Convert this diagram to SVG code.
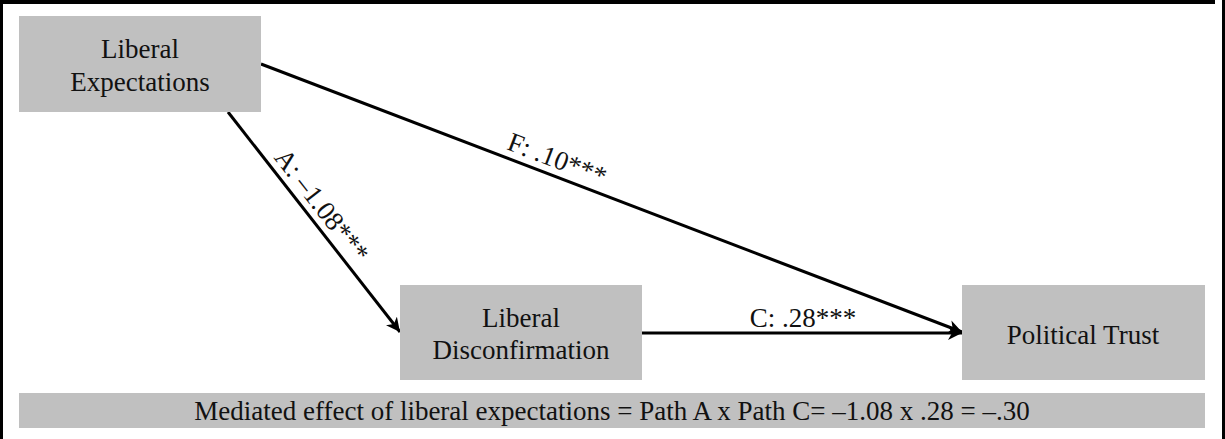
<svg xmlns="http://www.w3.org/2000/svg" width="1225" height="439" viewBox="0 0 1225 439">
<style>
.box{fill:#c0c0c0}
.t{font-family:"Liberation Serif","Times New Roman",serif;font-size:27px;fill:#111;text-anchor:middle}
.edge{stroke:#000;stroke-width:3;fill:none}
.frame{fill:#000}
</style>
<defs>
<marker id="arr" markerUnits="userSpaceOnUse" viewBox="0 0 14 14" refX="14" refY="7" markerWidth="14" markerHeight="14" orient="auto">
<path d="M0,0 L14,7 L0,14 L4,7 z" fill="#000"/>
</marker>
</defs>
<rect width="1225" height="439" fill="#fff"/>
<g id="frame">
<rect class="frame" x="0" y="0" width="1215" height="4"/>
<rect class="frame" x="0" y="0" width="3" height="439"/>
<rect class="frame" x="1222" y="0" width="3" height="439"/>
</g>
<g id="connectors">
<line class="edge" x1="261" y1="64" x2="962" y2="332" marker-end="url(#arr)"/>
<line class="edge" x1="228" y1="112" x2="400" y2="332" marker-end="url(#arr)"/>
<line class="edge" x1="642" y1="333" x2="962" y2="333" marker-end="url(#arr)"/>
<text class="t" transform="translate(554,167.5) rotate(20.9)">F: .10***</text>
<text class="t" transform="translate(314.7,210.9) rotate(52)">A: –1.08***</text>
<text class="t" x="803" y="327">C: .28***</text>
</g>
<g id="node-expectations">
<rect class="box" x="19" y="16" width="242" height="96"/>
<text class="t" x="140" y="58">Liberal</text>
<text class="t" x="140" y="91">Expectations</text>
</g>
<g id="node-disconfirmation">
<rect class="box" x="400" y="285" width="242" height="95"/>
<text class="t" x="521" y="327">Liberal</text>
<text class="t" x="521" y="359">Disconfirmation</text>
</g>
<g id="node-trust">
<rect class="box" x="962" y="285" width="243" height="95"/>
<text class="t" x="1083" y="344">Political Trust</text>
</g>
<g id="node-mediated">
<rect class="box" x="19" y="393" width="1186" height="35"/>
<text class="t" x="612" y="420">Mediated effect of liberal expectations = Path A x Path C= –1.08 x .28 = –.30</text>
</g>
</svg>
